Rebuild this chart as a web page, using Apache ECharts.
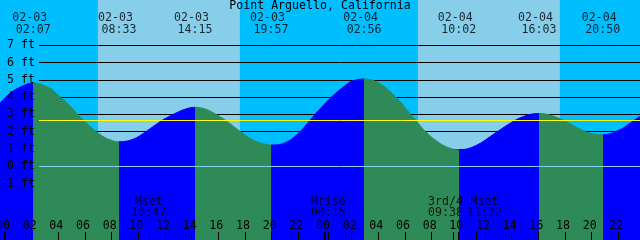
<!DOCTYPE html>
<html><head><meta charset="utf-8">
<style>html,body{margin:0;padding:0;background:#00BFFF;overflow:hidden}#c{width:640px;height:240px}</style>
<script src="https://cdn.jsdelivr.net/npm/echarts@6/dist/echarts.min.js"></script>
</head><body><div id="c"></div>
<script>
// ---------- data ----------
const titleText = 'Point Arguello, California';
// tide curve: hours since 02-03 00:00, height in feet
const tideHours = [-0.375, 0.375, 1.125, 2.117, 3.375, 4.125, 4.875, 5.4, 6.375, 7.125, 7.875, 8.55,
  9.6, 10.5, 11.75, 12.75, 13.5, 14.25, 15.075, 15.825, 16.575, 17.325, 18.075, 18.825, 19.575, 19.95,
  21.075, 22.125, 22.875, 23.25, 24.45, 25.5, 26.025, 26.933, 27.825, 28.575, 29.5, 30.45, 30.825,
  31.575, 32.375, 33.125, 34.033, 35.325, 36.825, 38.2, 39.15, 40.05, 40.875, 41.95, 43.33, 44.1,
  44.833, 46.125, 46.875, 47.625];
const tideFeet = [3.64, 4.22, 4.57, 4.82, 4.51, 4.02, 3.5, 3.05, 2.31, 1.84, 1.53, 1.42,
  1.56, 1.97, 2.64, 3.05, 3.3, 3.41, 3.3, 3.0, 2.64, 2.2, 1.77, 1.44, 1.27, 1.23,
  1.38, 2.0, 2.66, 3.0, 3.98, 4.66, 4.92, 5.05, 4.9, 4.53, 3.85, 2.98, 2.64,
  1.98, 1.46, 1.12, 0.95, 1.2, 1.95, 2.63, 2.95, 3.05, 2.96, 2.64, 2.07, 1.87,
  1.82, 2.12, 2.49, 2.9];
const extremeDates = ['02-03', '02-03', '02-03', '02-03', '02-04', '02-04', '02-04', '02-04'];
const extremeTimes = ['02:07', '08:33', '14:15', '19:57', '02:56', '10:02', '16:03', '20:50'];
const extremeKinds = ['H', 'L', 'H', 'L', 'H', 'L', 'H', 'L'];
const sunriseDates = ['02-03', '02-04'];
const sunriseTimes = ['06:58', '06:58'];
const sunsetTimes = ['17:37', '17:37'];
const moonDates = ['02-02', '02-03', '02-04', '02-04', '02-04'];
const moonTimes = ['23:07', '10:47', '00:15', '09:38', '11:22'];
const moonNames = ['Mrise', 'Mset', 'Mrise', '3rd/4', 'Mset'];
const hourTicks = [0, 2, 4, 6, 8, 10, 12, 14, 16, 18, 20, 22, 24, 26, 28, 30, 32, 34, 36, 38, 40, 42, 44, 46];
const midnightTicks = [0, 24];
const feetLabels = [-1, 0, 1, 2, 3, 4, 5, 6, 7];
const feetGrid = [-1, 1, 2, 3, 4, 5, 6, 7];
const mslFeet = 2.66;
const datumFeet = 0;

// ---------- layout / style ----------
const DAY_OFFSET = { '02-02': -24, '02-03': 0, '02-04': 24 };
function toHours(date, time) {
  const p = time.split(':').map(Number);
  return DAY_OFFSET[date] + p[0] + p[1] / 60;
}
const XMIN = -0.375, XMAX = 47.625;
const YMIN = -4.263, YMAX = 9.618;
const FONT = 'DejaVu Sans Mono';
const FS = 11.6;
const RISE = '#0000FF', FALL = '#2E8B57';
const NIGHT = '#00BFFF', DAY = '#87CEEB';

const extremeHours = extremeDates.map((d, i) => toHours(d, extremeTimes[i]));
const moonHours = moonDates.map((d, i) => toHours(d, moonTimes[i]));
const pieces = [];
for (let i = 0; i <= extremeHours.length; i++) {
  const rising = i < extremeHours.length ? extremeKinds[i] === 'H' : extremeKinds[i - 1] === 'L';
  const p = { color: rising ? RISE : FALL };
  if (i > 0) p.gte = extremeHours[i - 1];
  if (i < extremeHours.length) p.lt = extremeHours[i];
  pieces.push(p);
}
const dayBands = sunriseDates.map((d, i) => [{ xAxis: toHours(d, sunriseTimes[i]) }, { xAxis: toHours(d, sunsetTimes[i]) }]);
const tideData = tideHours.map((h, i) => [h, tideFeet[i]]);
const pad2 = v => String(((v % 24) + 24) % 24).padStart(2, '0');

// moon label offsets to keep the close pair apart
const moonOffsets = moonHours.map((h, i) => {
  if (i + 1 < moonHours.length && moonHours[i + 1] - h < 3) return [-8, 0];
  if (i > 0 && h - moonHours[i - 1] < 3) return [8, 0];
  return [0, 0];
});

const baseX = { type: 'value', min: XMIN, max: XMAX, position: 'bottom', offset: 0,
  axisLine: { show: false, onZero: false }, splitLine: { show: false } };
const baseY = { type: 'value', min: YMIN, max: YMAX, position: 'left', offset: 0,
  axisLine: { show: false, onZero: false }, splitLine: { show: false },
  axisTick: { show: false }, axisLabel: { show: false } };

const chart = echarts.init(document.getElementById('c'), null, { renderer: 'canvas' });
chart.setOption({
  animation: false,
  backgroundColor: NIGHT,
  title: { text: titleText, left: 'center', top: 0, padding: 0,
    textStyle: { fontFamily: FONT, fontSize: FS, fontWeight: 'normal', color: '#000' } },
  grid: [
    { left: 0, right: 0, top: 0, bottom: 0, outerBoundsMode: 'none', containLabel: false },
    { left: 39, right: 0, top: 0, bottom: 0, outerBoundsMode: 'none', containLabel: false }
  ],
  visualMap: { type: 'piecewise', show: false, dimension: 0, seriesIndex: 0, pieces: pieces },
  xAxis: [
    Object.assign({}, baseX, { gridIndex: 0, z: 10,
      axisTick: { show: true, inside: true, length: 8, customValues: hourTicks, lineStyle: { color: '#000', width: 1 } },
      axisLabel: { show: true, inside: true, margin: 8, customValues: hourTicks, formatter: pad2,
        color: '#000', fontFamily: FONT, fontSize: FS, padding: [0, 4, 0, 0] } }),
    Object.assign({}, baseX, { gridIndex: 0, z: 10,
      axisTick: { show: true, inside: true, length: 8, customValues: midnightTicks, lineStyle: { color: '#000', width: 2 } },
      axisLabel: { show: false } }),
    Object.assign({}, baseX, { gridIndex: 0, z: 10,
      axisTick: { show: true, inside: true, length: 8, customValues: moonHours, lineStyle: { color: '#000', width: 1 } },
      axisLabel: { show: false } }),
    Object.assign({}, baseX, { gridIndex: 1, show: false })
  ],
  yAxis: [
    Object.assign({}, baseY, { gridIndex: 0, show: false }),
    { type: 'value', gridIndex: 0, min: 0, max: 240, inverse: true, show: false, position: 'left' },
    Object.assign({}, baseY, { gridIndex: 1, z: 1.5,
      axisTick: { show: false, customValues: feetGrid },
      splitLine: { show: true, lineStyle: { color: '#000', width: 1, type: 'solid' } } }),
    Object.assign({}, baseY, { gridIndex: 1, z: 10,
      axisLabel: { show: true, customValues: feetLabels, margin: 4, formatter: v => v + ' ft',
        color: '#000', fontFamily: FONT, fontSize: FS } })
  ],
  series: [
    { type: 'line', xAxisIndex: 0, yAxisIndex: 0, data: tideData, smooth: 0.4, showSymbol: false,
      silent: true, z: 2, lineStyle: { width: 1 }, areaStyle: { opacity: 1, origin: 'start' },
      markArea: { silent: true, z: 1, itemStyle: { color: DAY, opacity: 1 }, data: dayBands } },
    { type: 'line', xAxisIndex: 3, yAxisIndex: 2, data: tideData, showSymbol: false, silent: true,
      lineStyle: { opacity: 0, width: 0 },
      markLine: { silent: true, z: 6, symbol: 'none', label: { show: false },
        lineStyle: { type: 'solid', width: 1 },
        data: [ { yAxis: datumFeet, lineStyle: { color: '#87CEEB', type: 'solid', width: 1 } },
                { yAxis: mslFeet, lineStyle: { color: '#FFFF00', type: 'solid', width: 1 } } ] } },
    { type: 'scatter', xAxisIndex: 0, yAxisIndex: 1, z: 10, silent: true, symbolSize: 0,
      data: extremeHours.map(h => [h, 23.5]),
      label: { show: true, position: 'inside', color: '#000', fontFamily: FONT, fontSize: FS,
        formatter: p => '{d|' + extremeDates[p.dataIndex] + '}\n{t|' + extremeTimes[p.dataIndex] + '}',
        rich: { d: { fontFamily: FONT, fontSize: FS, color: '#000', lineHeight: 12, padding: [0, 7, 0, 0] },
                t: { fontFamily: FONT, fontSize: FS, color: '#000', lineHeight: 12 } } } },
    { type: 'scatter', xAxisIndex: 0, yAxisIndex: 1, z: 10, silent: true, symbolSize: 0,
      data: moonHours.map((h, i) => ({ value: [h, 207.6], label: { offset: moonOffsets[i] } })),
      label: { show: true, position: 'inside', color: '#000', fontFamily: FONT, fontSize: FS, lineHeight: 11.5,
        formatter: p => moonNames[p.dataIndex] + '\n' + moonTimes[p.dataIndex] } }
  ]
});
</script></body></html>
